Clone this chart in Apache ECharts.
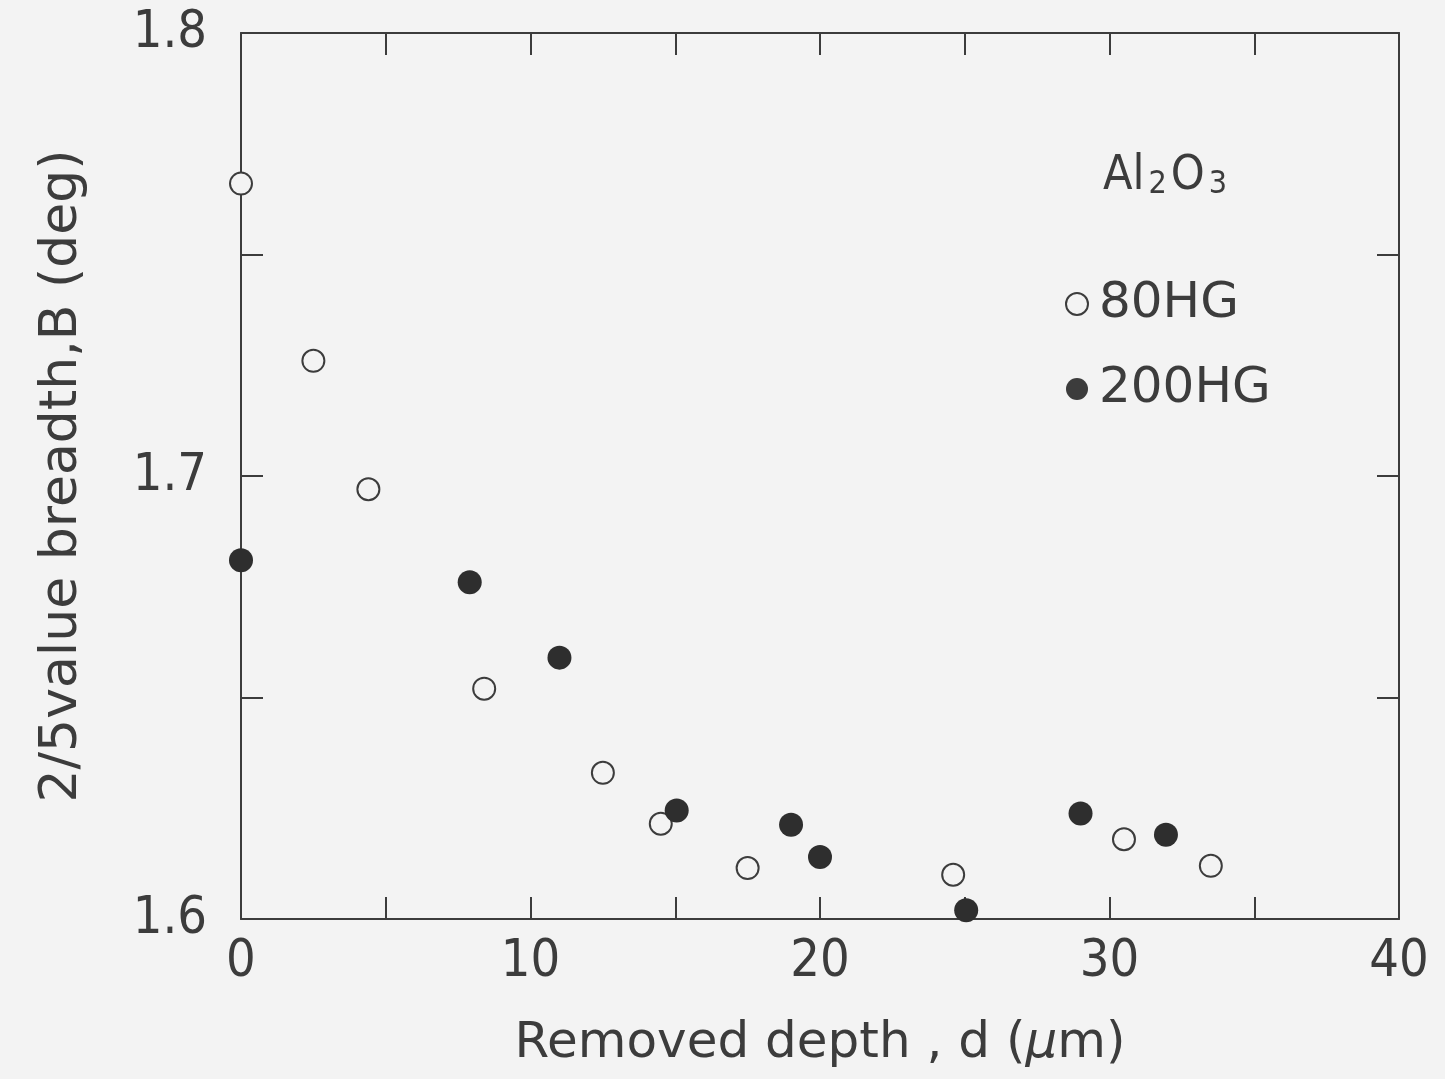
<!DOCTYPE html>
<html>
<head>
<meta charset="utf-8">
<script src="https://cdn.jsdelivr.net/npm/echarts@6/dist/echarts.min.js"></script>
<style>
  html, body { margin: 0; padding: 0; background: #f3f3f3; }
  #chart { width: 1445px; height: 1079px; }
</style>
</head>
<body>
<div id="chart"></div>
<script>
// 80HG (open circles)
const depth80 = [0, 2.5, 4.4, 8.4, 12.5, 14.5, 17.5, 24.6, 30.5, 33.5];
const breadth80 = [1.766, 1.726, 1.697, 1.652, 1.633, 1.6215, 1.6115, 1.610, 1.618, 1.612];
// 200HG (filled circles)
const depth200 = [0, 7.9, 11, 15.05, 19, 20, 25.05, 29, 31.95];
const breadth200 = [1.681, 1.676, 1.659, 1.6245, 1.6213, 1.614, 1.602, 1.6238, 1.619];

const xTicks = [0, 10, 20, 30, 40];
const yTicks = ['1.6', '1.7', '1.8'];

const ink = '#3c3c3c';
const font = 'DejaVu Sans';
const narrow = '"DejaVu Sans Condensed", "DejaVu Sans"';

let myChart = echarts.init(document.getElementById('chart'));

function pairs(xs, ys) {
  return xs.map((x, i) => [x, ys[i]]);
}

let tickStyle = { show: true, inside: true, length: 22, lineStyle: { color: ink, width: 2 } };
let frameLine = { show: true, onZero: false, lineStyle: { color: ink, width: 2 } };

myChart.setOption({
  backgroundColor: '#f3f3f3',
  animation: false,
  textStyle: { fontFamily: font },
  grid: { left: 241, right: 46, top: 33, bottom: 160 },
  title: {
    text: 'Al{sub|2}O{sub|3}',
    left: 1098,
    top: 148,
    textStyle: {
      fontFamily: narrow, fontSize: 48, fontWeight: 'normal', color: ink,
      rich: { sub: { fontFamily: narrow, fontSize: 32, color: ink, padding: [16, 4, 0, 4] } }
    }
  },
  legend: {
    orient: 'vertical',
    left: 1060,
    top: 273,
    itemGap: 33,
    itemWidth: 22,
    itemHeight: 22,
    textStyle: { fontFamily: font, fontSize: 50, lineHeight: 52, color: ink, padding: [0, 0, 0, 6] },
    data: [
      { name: '80HG', icon: 'circle', itemStyle: { color: '#f3f3f3', borderColor: ink, borderWidth: 2 } },
      { name: '200HG', icon: 'circle', itemStyle: { color: ink } }
    ]
  },
  xAxis: [{
    type: 'value',
    min: 0, max: 40, interval: 5,
    name: 'Removed depth , d ({it|μ}m)',
    nameLocation: 'middle',
    nameGap: 100,
    nameTextStyle: { fontFamily: font, fontSize: 50, color: ink, rich: { it: { fontFamily: font, fontSize: 50, fontStyle: 'italic', color: ink } } },
    axisLine: frameLine,
    axisTick: tickStyle,
    splitLine: { show: false },
    axisLabel: {
      fontFamily: narrow, fontSize: 52, color: ink, margin: 17,
      formatter: v => xTicks.includes(v) ? String(v) : ''
    }
  }, {
    type: 'value',
    position: 'top',
    min: 0, max: 40, interval: 5,
    axisLine: frameLine,
    axisTick: tickStyle,
    axisLabel: { show: false },
    splitLine: { show: false }
  }],
  yAxis: [{
    type: 'value',
    min: 1.6, max: 1.8, interval: 0.05,
    name: '2/5value breadth,B (deg)',
    nameLocation: 'middle',
    nameGap: 153,
    nameTextStyle: { fontFamily: font, fontSize: 52, color: ink },
    axisLine: frameLine,
    axisTick: tickStyle,
    splitLine: { show: false },
    axisLabel: {
      fontFamily: narrow, fontSize: 52, color: ink, margin: 34,
      formatter: v => {
        let s = v.toFixed(1);
        return (Math.abs(v - parseFloat(s)) < 1e-6 && yTicks.includes(s)) ? s : '';
      }
    }
  }, {
    type: 'value',
    position: 'right',
    min: 1.6, max: 1.8, interval: 0.05,
    axisLine: frameLine,
    axisTick: tickStyle,
    axisLabel: { show: false },
    splitLine: { show: false }
  }],
  series: [
    {
      name: '80HG',
      type: 'scatter',
      clip: false,
      symbol: 'circle',
      symbolSize: 22,
      itemStyle: { color: '#f3f3f3', borderColor: ink, borderWidth: 2, opacity: 1 },
      data: pairs(depth80, breadth80),
      z: 3
    },
    {
      name: '200HG',
      type: 'scatter',
      clip: false,
      symbol: 'circle',
      symbolSize: 24,
      itemStyle: { color: '#2e2e2e', opacity: 1 },
      data: pairs(depth200, breadth200),
      z: 4
    }
  ]
});

window.addEventListener('resize', () => {
  myChart.resize();
});
</script>
</body>
</html>
